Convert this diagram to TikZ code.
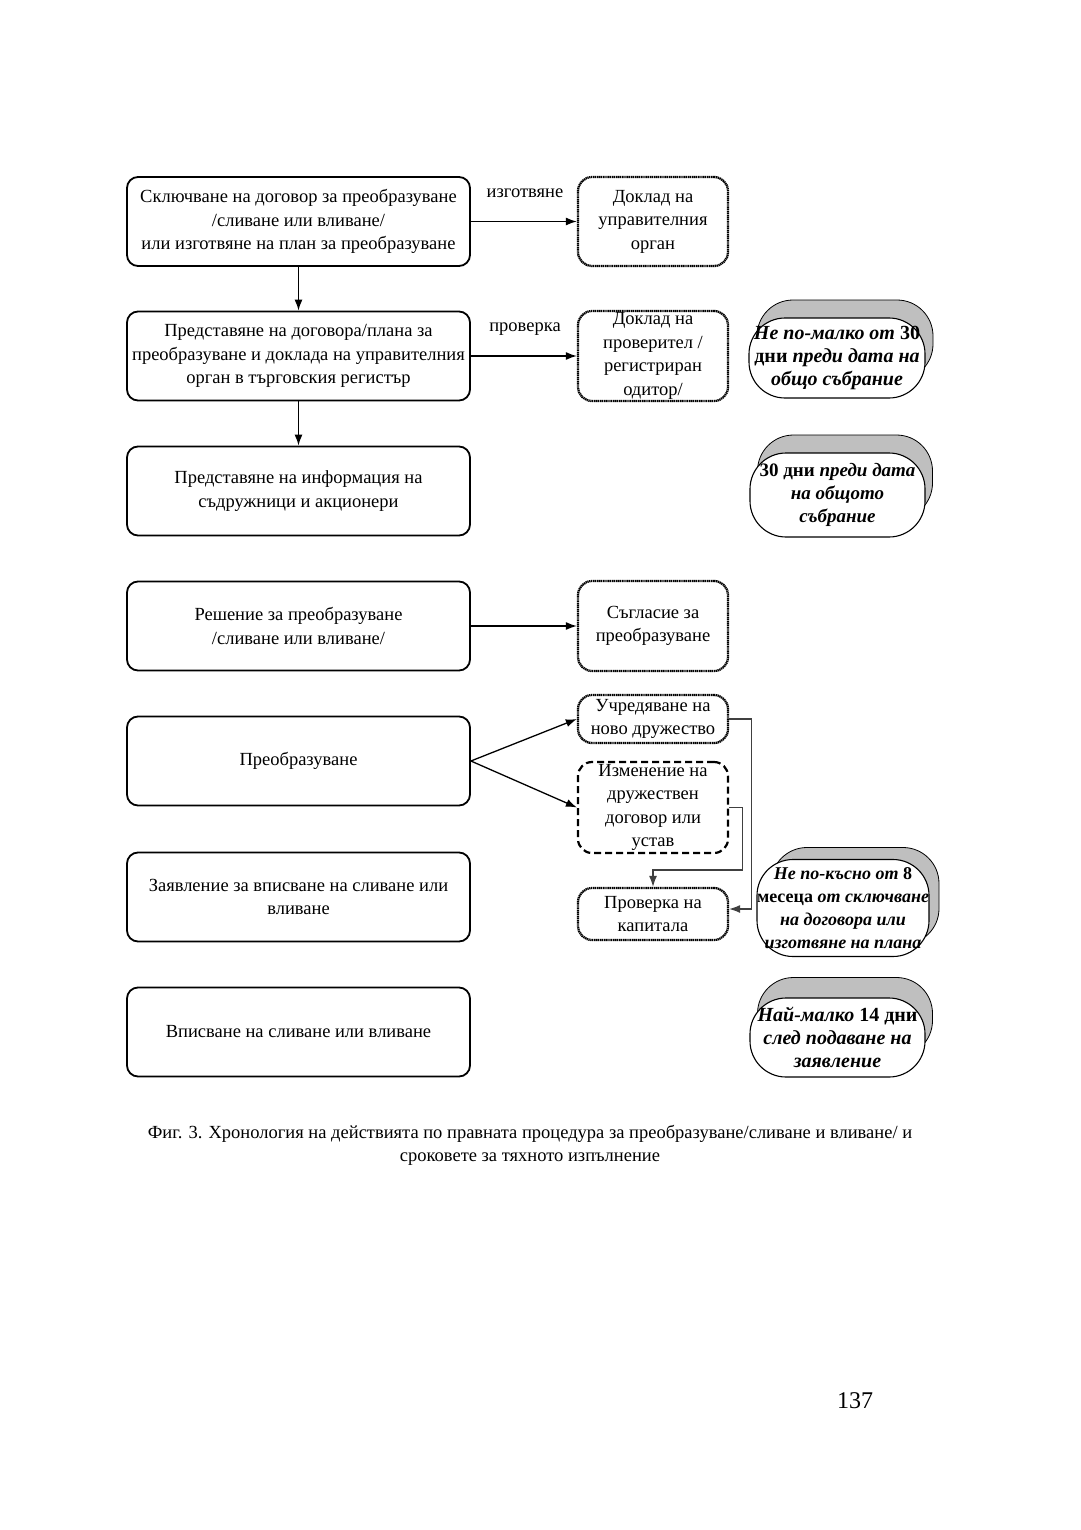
\documentclass[tikz,border=0pt]{standalone}
\usepackage{fontspec}
\setmainfont{Liberation Serif}
\usetikzlibrary{arrows.meta}
\begin{document}
\begin{tikzpicture}[x=1pt,y=-1pt,
  every node/.style={font=\fontsize{18.5}{23.5}\selectfont, align=center, inner sep=0pt},
  mainbox/.style={draw, line width=1.8pt, rounded corners=11pt, minimum width=343pt, minimum height=89pt},
  dotbox/.style={draw, line width=2.3pt, dash pattern=on 1.3pt off 0.6pt, rounded corners=14pt, minimum width=150pt},
  dashbox/.style={draw, line width=2.2pt, dash pattern=on 7pt off 4pt, rounded corners=14pt, minimum width=150pt},
  callout/.style={draw, line width=1.1pt, fill=white, rounded corners=36pt, font=\fontsize{20}{23}\selectfont\bfseries\itshape},
  callshadow/.style={draw, line width=0.8pt, fill=black!25, rounded corners=36pt},
  arr/.style={line width=1.3pt, -{Latex[length=11pt,width=8pt]}},
  garr/.style={line width=1.1pt, draw=black!75, -{Latex[length=11pt,width=8pt]}},
  lbl/.style={font=\fontsize{18.5}{23.5}\selectfont}
]
\useasboundingbox (0,0) rectangle (1080,1530);

% left column
\node[mainbox] (b1) at (298.5,221.5) {Сключване на договор за преобразуване\\/сливане или вливане/\\или изготвяне на план за преобразуване};
\node[mainbox] (b2) at (298.5,356) {Представяне на договора/плана за\\преобразуване и доклада на управителния\\орган в търговския регистър};
\node[mainbox] (b3) at (298.5,491) {Представяне на информация на\\съдружници и акционери};
\node[mainbox] (b4) at (298.5,626) {Решение за преобразуване\\/сливане или вливане/};
\node[mainbox] (b5) at (298.5,761) {Преобразуване};
\node[mainbox] (b6) at (298.5,897) {Заявление за вписване на сливане или\\вливане};
\node[mainbox] (b7) at (298.5,1032) {Вписване на сливане или вливане};

% right column
\node[dotbox, minimum height=89pt] (r1) at (653,221.5) {Доклад на\\управителния\\орган};
\node[dotbox, minimum height=90pt] (r2) at (653,356) {Доклад на\\проверител /\\регистриран\\одитор/};
\node[dotbox, minimum height=90pt] (r3) at (653,626) {Съгласие за\\преобразуване};
\node[dotbox, minimum height=48pt] (u) at (653,719) {Учредяване на\\ново дружество};
\node[dashbox, minimum height=91pt] (iz) at (653,807.5) {Изменение на\\дружествен\\договор или\\устав};
\node[dotbox, minimum height=52pt] (pk) at (653,914) {Проверка на\\капитала};

% labels
\node[lbl] (l1) at (525,193) {изготвяне};
\node[lbl] (l2) at (525,329) {проверка};

% connectors
\draw[arr] (b1.south) -- (b2.north);
\draw[arr] (b2.south) -- (b3.north);
\draw[arr] (b1.east) -- (r1.west);
\draw[arr] (b2.east) -- (r2.west);
\draw[arr] (b4.east) -- (r3.west);
\draw[arr] (b5.east) -- (u.west);
\draw[arr] (b5.east) -- (iz.west);
\draw[garr] (u.east) -- ++(22,0) |- ([yshift=5pt]pk.east);
\draw[garr] (iz.east) -- ++(13,0) -- ++(0,62.5) -| (pk.north);

% callouts
\node[callshadow, minimum width=176pt, minimum height=80pt] (c1s) at (845,340) {};
\node[callout, minimum width=176pt, minimum height=80pt] (c1) at (837,358) {Не по-малко от \upshape 30\\\upshape дни \itshape преди дата на\\общо събрание};
\node[callshadow, minimum width=175pt, minimum height=84pt] (c2s) at (845,477) {};
\node[callout, minimum width=175pt, minimum height=84pt, font=\fontsize{19}{23}\selectfont\bfseries\itshape] (c2) at (837.5,495) {\upshape 30 дни \itshape преди дата\\на общото\\събрание};
\node[callshadow, minimum width=168pt, minimum height=97pt] (c3s) at (855,896) {};
\node[callout, minimum width=168pt, minimum height=97pt, font=\fontsize{18}{23}\selectfont\bfseries\itshape] (c3) at (843,908) {Не по-късно от \upshape 8\\\upshape месеца \itshape от сключване\\на договора или\\изготвяне на плана};
\node[callshadow, minimum width=175pt, minimum height=79pt] (c4s) at (845,1017) {};
\node[callout, minimum width=175pt, minimum height=79pt] (c4) at (837.5,1037.5) {Най-малко \upshape 14 дни\\\itshape след подаване на\\заявление};

% caption
\node (cap) at (530,1145.5) {Фиг. 3. Хронология на действията по правната процедура за преобразуване/сливане и вливане/ и\\сроковете за тяхното изпълнение};
\node[font=\fontsize{24}{28}\selectfont] (pg) at (855,1401) {137};
\end{tikzpicture}
\end{document}
